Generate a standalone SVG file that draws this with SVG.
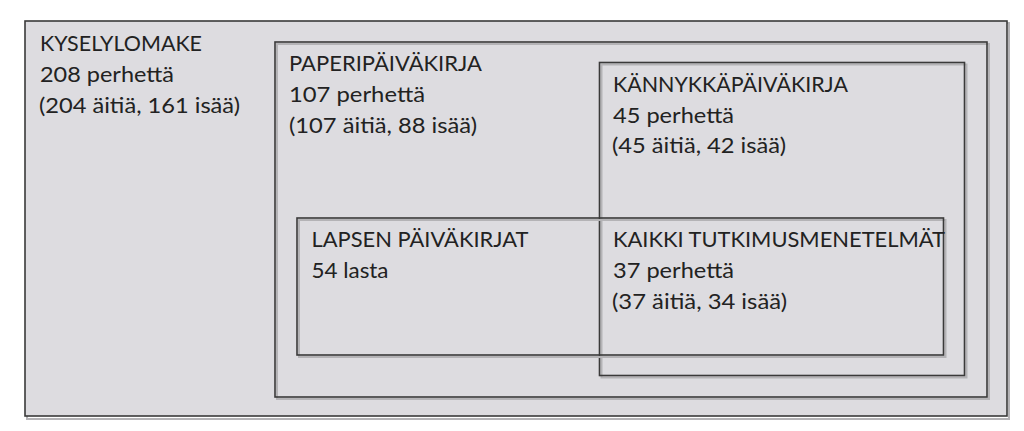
<svg xmlns="http://www.w3.org/2000/svg" width="1024" height="431" viewBox="0 0 1024 431">
<style>
.box{fill:none;stroke:#3a3a3a;stroke-width:1.6}
.bg{fill:#dddce0}
.sh{fill:none;stroke:#b4b3b6;stroke-width:2}
.t{font-family:Lato,"Open Sans","Liberation Sans",sans-serif;font-size:22px;fill:#222222}
</style>
<rect x="0" y="0" width="1024" height="431" fill="#ffffff"/>
<g id="kyselylomake">
<rect x="27" y="23" width="982" height="396" class="sh"/>
<rect x="25" y="21" width="982" height="395" class="bg"/>
<rect x="25" y="21" width="982" height="395" class="box"/>
<text class="t" x="40" y="50.5" textLength="162" lengthAdjust="spacingAndGlyphs">KYSELYLOMAKE</text>
<text class="t" x="40" y="82" textLength="134" lengthAdjust="spacingAndGlyphs">208 perhettä</text>
<text class="t" x="39" y="113" textLength="201" lengthAdjust="spacingAndGlyphs">(204 äitiä, 161 isää)</text>
</g>
<g id="paperipaivakirja">
<rect x="277" y="44" width="712" height="355" class="sh"/>
<rect x="275" y="42" width="712" height="355" class="box"/>
<text class="t" x="289" y="71" textLength="193" lengthAdjust="spacingAndGlyphs">PAPERIPÄIVÄKIRJA</text>
<text class="t" x="289" y="102" textLength="136" lengthAdjust="spacingAndGlyphs">107 perhettä</text>
<text class="t" x="289" y="133" textLength="188" lengthAdjust="spacingAndGlyphs">(107 äitiä, 88 isää)</text>
</g>
<g id="kannykkapaivakirja">
<rect x="601.5" y="64.5" width="365" height="313" class="sh"/>
<rect x="599.5" y="62.5" width="365" height="313" class="box"/>
<text class="t" x="613" y="92" textLength="235" lengthAdjust="spacingAndGlyphs">KÄNNYKKÄPÄIVÄKIRJA</text>
<text class="t" x="613" y="123" textLength="121" lengthAdjust="spacingAndGlyphs">45 perhettä</text>
<text class="t" x="612" y="153" textLength="174" lengthAdjust="spacingAndGlyphs">(45 äitiä, 42 isää)</text>
</g>
<g id="lapsen-paivakirjat">
<rect x="299" y="220" width="646.5" height="137" class="sh"/>
<rect x="297" y="218" width="646.5" height="137" class="box"/>
<text class="t" x="311.5" y="247" textLength="217" lengthAdjust="spacingAndGlyphs">LAPSEN PÄIVÄKIRJAT</text>
<text class="t" x="311.5" y="278" textLength="77" lengthAdjust="spacingAndGlyphs">54 lasta</text>
</g>
<g id="kaikki-tutkimusmenetelmat">
<text class="t" x="613" y="247" textLength="332" lengthAdjust="spacingAndGlyphs">KAIKKI TUTKIMUSMENETELMÄT</text>
<text class="t" x="613" y="278" textLength="121" lengthAdjust="spacingAndGlyphs">37 perhettä</text>
<text class="t" x="612" y="309" textLength="175" lengthAdjust="spacingAndGlyphs">(37 äitiä, 34 isää)</text>
</g>
<g id="connectors"></g>
</svg>
